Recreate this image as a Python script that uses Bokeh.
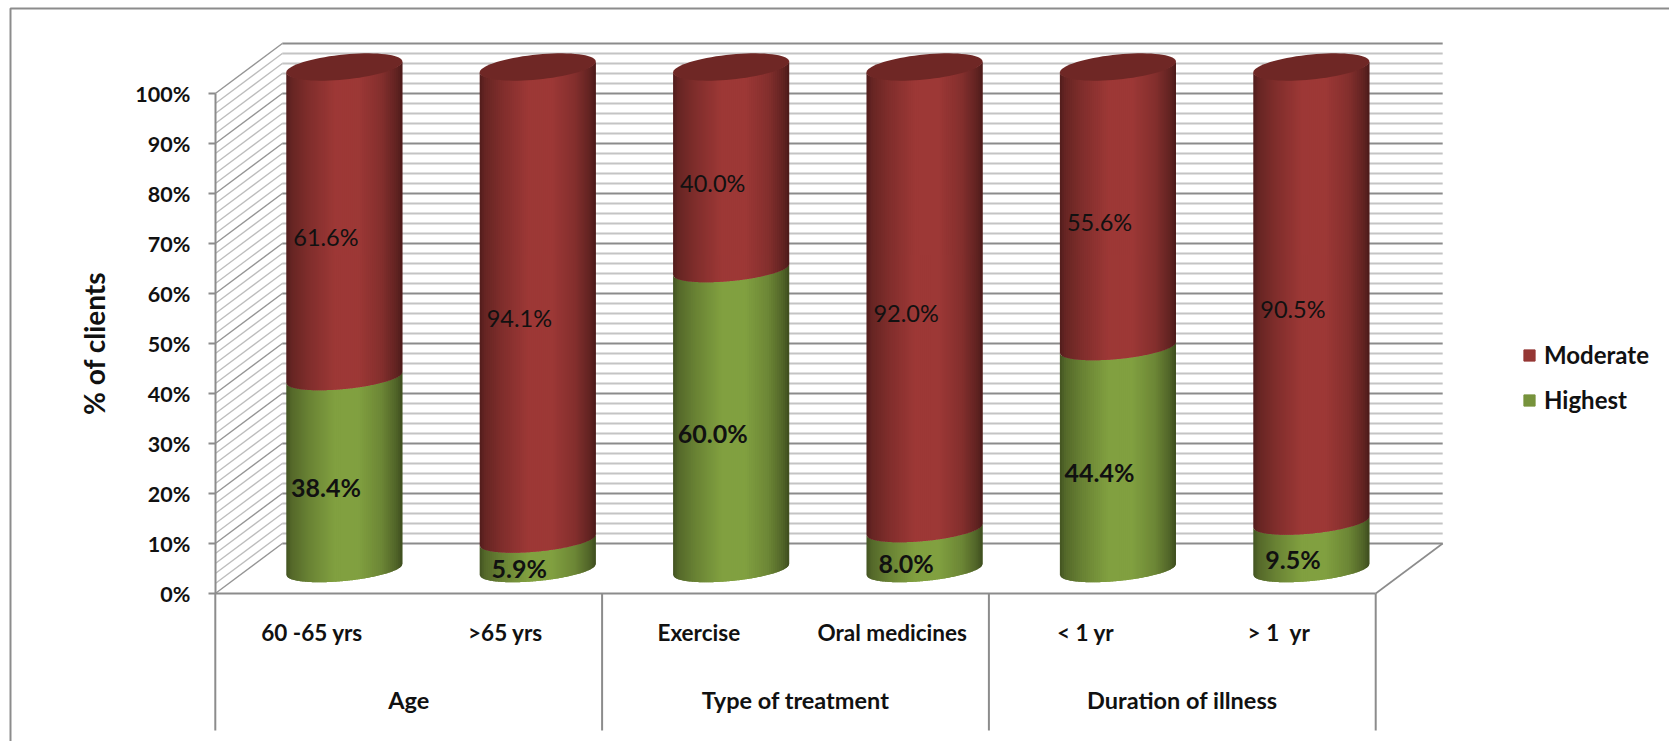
import numpy as np
from bokeh.core.properties import value
from bokeh.embed import file_html
from bokeh.models import (BoxAnnotation, ColumnDataSource, FixedTicker, Legend, LegendItem,
                          LinearAxis, PrintfTickFormatter, Range1d)
from bokeh.plotting import figure
from bokeh.resources import INLINE

# Survey results: share of clients per level, grouped by client attribute
categories = ["60 -65 yrs", ">65 yrs", "Exercise", "Oral medicines", "< 1 yr", "> 1\u00a0 yr"]
groups = ["Age", "Type of treatment", "Duration of illness"]
highest = [38.4, 5.9, 60.0, 8.0, 44.4, 9.5]
moderate = [61.6, 94.1, 40.0, 92.0, 55.6, 90.5]
y_ticks = list(range(0, 101, 10))

FONT = "Lato"
INK = "#111111"
AXIS_GREY = "#8c8c8c"
MINOR_GREY = "#c4c4c4"
RED = (157, 56, 54)
GREEN = (129, 160, 64)

# Oblique box the columns stand in: depth as offsets in axis units
DEPTH_X, DEPTH_Y = 0.3464, 10.0
COL_DX, COL_DY = 0.167, 4.8     # column axis relative to the front plane
COL_HALF = 0.30                 # half width, in categories
RIM_B, RIM_SHEAR = 2.3, 1.1     # rim ellipse: half height and tilt, in percent units
CAP_LIFT = 0.5

p = figure(width=1669, height=741, output_backend="svg", toolbar_location=None,
           x_range=Range1d(-214.8 / 193.4, (1669 - 214.8) / 193.4),
           y_range=Range1d(-29.6, 118.6),
           x_axis_location=None, y_axis_location=None,
           min_border_left=0, min_border_right=0, min_border_top=0, min_border_bottom=0)
p.grid.visible = False
p.outline_line_color = None
p.background_fill_color = "white"
p.border_fill_color = "white"

# Outer chart border
p.add_layout(BoxAnnotation(left=10, right=1720, top=8, bottom=800,
                           left_units="canvas", right_units="canvas",
                           top_units="canvas", bottom_units="canvas",
                           fill_color=None, line_color=AXIS_GREY, line_alpha=1.0, line_width=2))

# Box walls: gridlines on the back wall and the left wall
n = len(categories)
minor = [v for v in range(0, 101, 2) if v % 10]
major = y_ticks
for levels, color, width in ((minor, MINOR_GREY, 2.0), (major, AXIS_GREY, 2.0)):
    p.segment(x0=[DEPTH_X] * len(levels), x1=[n + DEPTH_X] * len(levels),
              y0=[v + DEPTH_Y for v in levels], y1=[v + DEPTH_Y for v in levels],
              line_color=color, line_width=width)
for levels, color, width in ((minor, "#bdbdbd", 1.3), (major, "#959595", 1.4)):
    p.segment(x0=[0] * len(levels), x1=[DEPTH_X] * len(levels),
              y0=levels, y1=[v + DEPTH_Y for v in levels],
              line_color=color, line_width=width)

# Floor edges and the category separators below the axis
p.segment(x0=[0], x1=[n], y0=[0], y1=[0], line_color=AXIS_GREY, line_width=2)
p.segment(x0=[n], x1=[n + DEPTH_X], y0=[0], y1=[DEPTH_Y], line_color=AXIS_GREY, line_width=1.6)
seps = [0, 2, 4, 6]
p.segment(x0=seps, x1=seps, y0=[0] * 4, y1=[-27.4] * 4, line_color=AXIS_GREY, line_width=2)


def shade(pos, base):
    stops_x = [0.0, 0.05, 0.2, 0.42, 0.62, 0.82, 0.95, 1.0]
    stops_f = [0.52, 0.66, 0.82, 1.0, 1.0, 0.84, 0.62, 0.48]
    f = np.interp(pos, stops_x, stops_f)
    return "#%02x%02x%02x" % tuple(int(round(c * f)) for c in base)


def front_arc(x, cx, level):
    u = np.clip((x - cx) / COL_HALF, -1, 1)
    return level + COL_DY - RIM_B * np.sqrt(1 - u * u) + RIM_SHEAR * u


def column_strips(cx, low, high, base, strips=58):
    # Shaded bands painted left to right; each one runs under the next to hide seams
    edges = cx + COL_HALF * np.linspace(-1, 1, strips + 1)
    step = edges[1] - edges[0]
    xs, ys, colors = [], [], []
    for k, a in enumerate(edges[:-1]):
        b = min(a + 2 * step, edges[-1])
        mids = np.linspace(a, b, 5)
        xs.append(list(mids) + list(mids[::-1]))
        ys.append(list(front_arc(mids, cx, low)) + list(front_arc(mids[::-1], cx, high)))
        colors.append(shade((k + 0.5) / strips, base))
    return xs, ys, colors


for i, (h, m) in enumerate(zip(highest, moderate)):
    cx = i + 0.5 + COL_DX
    for low, high, base in ((0, h, GREEN), (h, h + m + CAP_LIFT, RED)):
        xs, ys, colors = column_strips(cx, low, high, base)
        p.patches(xs, ys, fill_color=colors, line_color=None)
    # Column top
    t = np.linspace(0, 2 * np.pi, 73)
    level = h + m + CAP_LIFT + COL_DY
    cap_x = cx + COL_HALF * np.cos(t)
    cap_y = level + (RIM_B + 0.2) * np.sin(t) + RIM_SHEAR * np.cos(t)
    p.patch(cap_x, cap_y, fill_color="#6f2725", line_color=None)

# Value labels
lab_x = [i + 0.5 + 0.072 for i in range(n)]
p.text(lab_x, [v / 2 + 2.2 for v in highest], text=[f"{v:.1f}%" for v in highest],
       text_font=value(FONT), text_font_style="bold", text_font_size="25px", text_color=INK,
       text_align="center", text_baseline="middle")
p.text(lab_x, [h + m / 2 + 2.2 for h, m in zip(highest, moderate)], text=[f"{v:.1f}%" for v in moderate],
       text_font=value(FONT), text_font_size="23.5px", text_color=INK,
       text_align="center", text_baseline="middle")

# Axes
y_axis = LinearAxis(fixed_location=0, bounds=(0, 100), ticker=FixedTicker(ticks=y_ticks),
                    formatter=PrintfTickFormatter(format="%d%%"),
                    axis_label="% of clients", axis_label_standoff=21,
                    axis_label_text_font=FONT, axis_label_text_font_style="bold",
                    axis_label_text_font_size="28px", axis_label_text_color=INK,
                    axis_line_color=AXIS_GREY, axis_line_width=2,
                    major_tick_line_color=AXIS_GREY, major_tick_line_width=2,
                    major_tick_out=7, major_tick_in=0, minor_tick_line_color=None,
                    major_label_standoff=18, major_label_text_font=FONT,
                    major_label_text_font_style="bold", major_label_text_font_size="21.5px",
                    major_label_text_color=INK)
p.add_layout(y_axis, "left")

# Category labels and, further down, their group labels
cat_ticks = [i + 0.5 for i in range(len(categories))]
group_ticks = [2 * i + 1 for i in range(len(groups))]
for ticks, names, standoff, size in ((cat_ticks, categories, 19, "22.5px"), (group_ticks, groups, 86, "23.5px")):
    x_axis = LinearAxis(fixed_location=0, ticker=FixedTicker(ticks=ticks),
                        major_label_overrides=dict(zip(ticks, names)),
                        axis_line_color=None, major_tick_line_color=None, minor_tick_line_color=None,
                        major_label_standoff=standoff, major_label_text_font=FONT,
                        major_label_text_font_style="bold", major_label_text_font_size=size,
                        major_label_text_color=INK)
    p.add_layout(x_axis, "below")

# Legend keys: renderers with no visible mark of their own
nan = [float("nan")]
src = ColumnDataSource(data=dict(left=nan, right=nan, top=nan, bottom=nan))
r_mod = p.quad(left="left", right="right", top="top", bottom="bottom", source=src,
               fill_color="#953735", line_color="#953735")
r_high = p.quad(left="left", right="right", top="top", bottom="bottom", source=src,
                fill_color="#77933c", line_color="#77933c")
legend = Legend(items=[LegendItem(label="Moderate", renderers=[r_mod]),
                       LegendItem(label="Highest", renderers=[r_high])],
                location=(1522, 327), padding=0, margin=0, spacing=16,
                glyph_width=14, glyph_height=14, label_standoff=8,
                label_text_font=FONT, label_text_font_style="bold", label_text_font_size="24px",
                label_text_color=INK, background_fill_color=None, border_line_color=None)
p.add_layout(legend, "center")

open("out.html", "w").write(file_html(p, INLINE))
